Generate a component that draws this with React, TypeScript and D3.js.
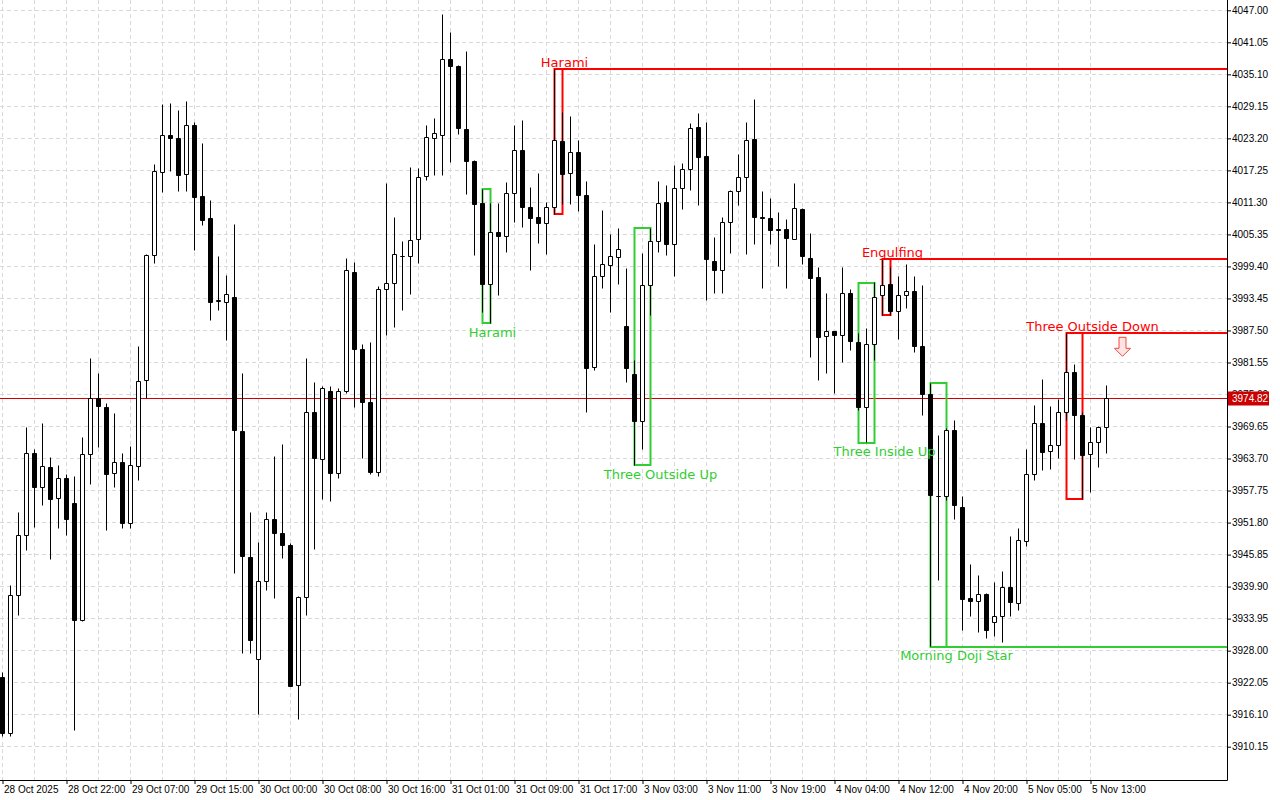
import React, { useEffect, useRef } from "react";
import * as d3 from "d3";

// hourly candles, index 0 = 28 Oct 2025 14:00
const open = [
  3923.10, 3912.64, 3938.28, 3949.43, 3964.67, 3958.35, 3962.07, 3956.31, 3960.08, 3955.38,
  3933.56, 3964.49, 3974.89, 3973.22, 3960.95, 3963.00, 3951.66, 3962.18, 3978.24, 4001.46,
  4016.89, 4023.77, 4023.21, 4016.52, 4025.59, 4012.34, 4008.29, 3992.88, 3992.73, 3993.68,
  3968.80, 3945.36, 3926.33, 3940.86, 3952.44, 3949.84, 3947.57, 3921.56, 3937.91, 3972.22,
  3963.56, 3976.19, 3960.88, 3976.19, 3998.31, 3984.00, 3974.15, 3961.14, 3995.15, 3996.26,
  4001.28, 4001.28, 4004.44, 4016.15, 4023.21, 4023.77, 4037.89, 4036.64, 4024.94, 4018.99,
  4011.13, 3996.08, 4005.74, 4004.92, 4012.99, 4020.98, 4010.39, 4008.53, 4007.34, 4010.31,
  4022.65, 4016.71, 4020.61, 4012.67, 3980.53, 3997.49, 3999.61, 4001.10, 3988.27, 3979.35,
  3970.55, 3995.89, 4004.07, 4011.19, 4003.51, 4013.92, 4017.45, 4025.31, 4019.74, 4000.35,
  3998.68, 4007.60, 4013.36, 4015.96, 4023.08, 4008.45, 4008.34, 4006.35, 4006.30, 4004.44,
  4010.01, 4000.91, 3997.38, 3986.41, 3987.34, 3986.60, 3994.40, 3985.35, 3973.22, 3984.93,
  3994.09, 3996.08, 3991.06, 3994.03, 3994.83, 3984.55, 3975.63, 3956.68, 3956.60, 3968.95,
  3954.69, 3937.60, 3937.17, 3938.47, 3933.27, 3934.38, 3939.77, 3936.79, 3948.31, 3960.77,
  3970.24, 3965.10, 3966.16, 3972.29, 3979.72, 3971.79, 3964.49, 3966.71, 3969.43,
];
const high = [
  3924.03, 3940.19, 3953.71, 3969.50, 3965.29, 3970.12, 3963.93, 3962.44, 3960.77, 3960.45,
  3967.65, 3982.38, 3979.54, 3973.96, 3971.98, 3964.67, 3965.90, 3984.61, 4001.71, 4018.43,
  4029.58, 4029.72, 4028.47, 4030.14, 4026.06, 4022.19, 4011.69, 4001.21, 3997.66, 4007.28,
  3979.58, 3953.75, 3948.04, 3953.75, 3964.17, 3966.27, 3947.94, 3938.15, 3982.20, 3977.87,
  3977.18, 3977.12, 3976.68, 4000.96, 4000.22, 3984.85, 3985.35, 3995.76, 4014.90, 4008.58,
  4004.12, 4017.87, 4017.63, 4025.68, 4026.98, 4046.31, 4042.96, 4036.83, 4039.43, 4019.18,
  4013.73, 4011.13, 4011.13, 4015.09, 4025.68, 4026.61, 4014.10, 4016.76, 4011.19, 4036.09,
  4028.10, 4027.23, 4022.89, 4015.22, 4003.51, 4009.83, 4005.37, 4006.48, 3998.98, 3982.01,
  4001.84, 4006.54, 4015.22, 4014.40, 4018.25, 4018.62, 4025.92, 4027.91, 4026.06, 4004.87,
  4008.58, 4013.60, 4020.29, 4026.06, 4030.51, 4013.41, 4012.06, 4009.46, 4008.16, 4014.85,
  4010.26, 4005.55, 3999.24, 3994.40, 3987.40, 3999.24, 3995.20, 3986.97, 3987.90, 3996.37,
  4000.72, 3999.24, 3997.62, 3999.85, 3997.62, 3995.95, 3977.68, 3968.01, 3969.37, 3970.86,
  3956.68, 3944.10, 3942.00, 3938.66, 3940.70, 3942.80, 3949.30, 3950.73, 3965.29, 3973.65,
  3978.42, 3973.46, 3974.76, 3986.97, 3981.21, 3972.20, 3969.56, 3969.69, 3977.31,
];
const low = [
  3912.13, 3912.00, 3934.49, 3946.70, 3950.85, 3954.93, 3944.85, 3950.66, 3949.36, 3913.25,
  3933.37, 3958.84, 3965.71, 3950.42, 3958.28, 3950.73, 3950.73, 3959.58, 3974.82, 4000.03,
  4013.10, 4017.00, 4013.29, 4013.29, 4002.27, 4007.06, 3989.33, 3991.23, 3985.65, 3942.33,
  3927.48, 3927.48, 3916.13, 3939.14, 3937.69, 3945.14, 3921.29, 3915.24, 3934.49, 3946.76,
  3956.05, 3955.68, 3960.08, 3975.75, 3973.14, 3963.67, 3960.69, 3960.32, 3986.52, 3988.01,
  3991.17, 3994.27, 3999.91, 4015.33, 4016.26, 4016.26, 4018.67, 4023.88, 4012.73, 4001.39,
  3990.87, 3988.83, 3993.96, 4001.95, 4007.52, 4006.60, 3998.61, 4003.62, 4001.58, 4009.09,
  4011.00, 4011.00, 4009.57, 3972.22, 3980.15, 3995.26, 3990.93, 3996.00, 3977.87, 3962.50,
  3965.29, 3990.24, 4001.95, 4001.52, 3997.49, 4009.94, 4013.47, 4010.81, 3993.03, 3994.40,
  3994.40, 4001.76, 4010.68, 4001.58, 4003.44, 3995.30, 4003.44, 3999.35, 3995.33, 4004.44,
  3999.85, 3982.43, 3978.29, 3979.54, 3975.82, 3981.51, 3983.87, 3972.72, 3966.64, 3982.01,
  3990.31, 3990.31, 3985.86, 3991.54, 3983.36, 3971.66, 3928.73, 3940.99, 3955.99, 3952.28,
  3931.70, 3934.31, 3931.33, 3930.29, 3930.59, 3929.55, 3934.31, 3935.49, 3947.31, 3959.71,
  3961.57, 3961.70, 3963.67, 3970.86, 3963.43, 3956.12, 3957.35, 3962.07, 3964.67,
];
const close = [
  3912.69, 3938.28, 3949.43, 3964.67, 3958.35, 3962.26, 3956.05, 3959.90, 3952.28, 3933.56,
  3964.49, 3974.89, 3973.33, 3960.77, 3962.92, 3951.66, 3962.37, 3978.05, 4001.46, 4017.08,
  4023.77, 4023.14, 4016.26, 4025.63, 4012.27, 4007.94, 3992.73, 3993.00, 3994.26, 3968.95,
  3945.49, 3929.88, 3940.86, 3952.44, 3949.77, 3947.46, 3921.42, 3937.91, 3972.22, 3963.67,
  3976.75, 3960.88, 3976.19, 3998.68, 3983.92, 3974.07, 3961.06, 3995.15, 3996.26, 4001.65,
  4001.28, 4004.25, 4015.96, 4023.40, 4024.14, 4037.89, 4036.51, 4024.99, 4018.86, 4010.87,
  3996.08, 4005.74, 4004.92, 4012.99, 4020.98, 4010.31, 4008.27, 4007.34, 4010.39, 4022.84,
  4016.52, 4020.61, 4012.54, 3980.39, 3997.44, 3999.80, 4001.28, 4002.64, 3980.39, 3970.55,
  3995.89, 4004.07, 4011.13, 4003.51, 4013.92, 4017.45, 4025.07, 4019.61, 4000.65, 3998.68,
  4007.60, 4013.41, 4015.96, 4022.84, 4008.45, 4008.30, 4006.04, 4006.04, 4004.55, 4010.20,
  4001.20, 3997.12, 3986.15, 3987.27, 3986.52, 3994.40, 3985.41, 3973.14, 3984.93, 3993.66,
  3995.89, 3991.06, 3994.03, 3994.77, 3984.48, 3975.56, 3956.79, 3956.68, 3968.95, 3954.93,
  3937.46, 3937.17, 3938.47, 3931.70, 3934.31, 3939.77, 3936.98, 3948.50, 3960.77, 3970.24,
  3964.85, 3966.16, 3972.29, 3979.72, 3971.66, 3964.22, 3966.71, 3969.43, 3974.82,
];

const priceTicks = [
  4047.0, 4041.05, 4035.1, 4029.15, 4023.2, 4017.25, 4011.3, 4005.35, 3999.4, 3993.45,
  3987.5, 3981.55, 3975.6, 3969.65, 3963.7, 3957.75, 3951.8, 3945.85, 3939.9, 3933.95,
  3928.0, 3922.05, 3916.1, 3910.15,
];
const timeTickIndex = [0, 8, 16, 24, 32, 40, 48, 56, 64, 72, 80, 88, 96, 104, 112, 120, 128, 136];
const timeTickLabels = [
  "28 Oct 2025", "28 Oct 22:00", "29 Oct 07:00", "29 Oct 15:00", "30 Oct 00:00", "30 Oct 08:00",
  "30 Oct 16:00", "31 Oct 01:00", "31 Oct 09:00", "31 Oct 17:00", "3 Nov 03:00", "3 Nov 11:00",
  "3 Nov 19:00", "4 Nov 04:00", "4 Nov 12:00", "4 Nov 20:00", "5 Nov 05:00", "5 Nov 13:00",
];

// candlestick patterns
const patternNames = ["Harami", "Harami", "Three Outside Up", "Three Inside Up", "Engulfing", "Morning Doji Star", "Three Outside Down"];
const patternStart = [60, 69, 79, 107, 110, 116, 133];
const patternLength = [2, 2, 3, 3, 2, 3, 3];
const patternBullish = [true, false, true, true, false, true, false];
const patternLevel = [false, true, false, false, true, true, true];

const lastPrice = 3974.82;
const arrowIndex = 140;

export default function App() {
  const svgRef = useRef<SVGSVGElement>(null);

  useEffect(() => {
    if (!svgRef.current) return;

    const width = 1280;
    const height = 800;
    const plotRight = 1227.5;
    const plotBottom = 780.5;
    const green = "#32cd32";
    const red = "#ff0000";

    d3.select(svgRef.current).selectAll("*").remove();

    const svg = d3.select(svgRef.current)
      .attr("width", width)
      .attr("height", height)
      .attr("viewBox", [0, 0, width, height])
      .style("background", "#fff");

    const x = d3.scaleLinear().domain([0, 1]).range([2.5, 10.5]);
    const y = d3.scaleLinear().domain([3910.15, 4047]).range([746.7, 10.3]);
    const snap = (v: number) => Math.round(v - 0.5) + 0.5;

    // grid
    const grid = svg.append("g")
      .attr("stroke", "#d9d9d9")
      .attr("stroke-dasharray", "4,3");
    grid.selectAll("line.h")
      .data(priceTicks)
      .join("line")
      .attr("class", "h")
      .attr("x1", 0)
      .attr("x2", plotRight)
      .attr("y1", d => snap(y(d)))
      .attr("y2", d => snap(y(d)));
    const vGrid = d3.range(0, 140, 4);
    grid.selectAll("line.v")
      .data(vGrid)
      .join("line")
      .attr("class", "v")
      .attr("x1", d => x(d))
      .attr("x2", d => x(d))
      .attr("y1", 0)
      .attr("y2", plotBottom);

    // current price line
    svg.append("line")
      .attr("x1", 0)
      .attr("x2", plotRight)
      .attr("y1", snap(y(lastPrice)))
      .attr("y2", snap(y(lastPrice)))
      .attr("stroke", "#d40000")
      .attr("stroke-width", 1);

    // pattern boxes and levels (behind the candles)
    const pat = svg.append("g").attr("fill", "none").attr("stroke-width", 2);
    const labels: { name: string; cx: number; ty: number; color: string }[] = [];
    patternNames.forEach((name, k) => {
      const s = patternStart[k];
      const e = s + patternLength[k] - 1;
      const hi = d3.max(d3.range(s, e + 1), i => high[i]) as number;
      const lo = d3.min(d3.range(s, e + 1), i => low[i]) as number;
      const color = patternBullish[k] ? green : red;
      pat.append("rect")
        .attr("x", x(s))
        .attr("y", Math.round(y(hi)))
        .attr("width", x(e) - x(s))
        .attr("height", Math.round(y(lo)) - Math.round(y(hi)))
        .attr("stroke", color);
      if (patternLevel[k]) {
        const ly = Math.round(patternBullish[k] ? y(lo) : y(hi));
        pat.append("line")
          .attr("x1", x(s))
          .attr("x2", plotRight)
          .attr("y1", ly)
          .attr("y2", ly)
          .attr("stroke", color);
      }
      labels.push({
        name,
        cx: x(e + patternLength[k] - 2) + 2,
        ty: patternBullish[k] ? y(lo) + 13.5 : y(hi) - 2.5,
        color,
      });
    });

    // candles
    const candles = svg.append("g");
    const idx = d3.range(open.length);
    candles.selectAll("line")
      .data(idx)
      .join("line")
      .attr("x1", i => x(i))
      .attr("x2", i => x(i))
      .attr("y1", i => snap(y(high[i])))
      .attr("y2", i => snap(y(low[i])))
      .attr("stroke", "#000");
    candles.selectAll("path")
      .data(idx)
      .join("path")
      .attr("d", i => {
        const top = snap(y(Math.max(open[i], close[i])));
        const bot = snap(y(Math.min(open[i], close[i])));
        return `M${x(i) - 2},${top}H${x(i) + 2}V${bot}H${x(i) - 2}Z`;
      })
      .attr("fill", i => (close[i] < open[i] ? "#000" : "#fff"))
      .attr("stroke", "#000");

    // pattern labels
    svg.append("g")
      .selectAll("text")
      .data(labels)
      .join("text")
      .attr("x", d => d.cx)
      .attr("y", d => d.ty)
      .attr("text-anchor", "middle")
      .attr("fill", d => d.color)
      .style("font-family", "'DejaVu Sans', Verdana, sans-serif")
      .style("font-size", "13px")
      .text(d => d.name);

    // sell arrow
    const ax = x(arrowIndex);
    const ay = y(high[133]) + 4;
    svg.append("path")
      .attr("d", `M${ax - 3.5},${ay} h7 v11 h4.5 l-8,8 l-8,-8 h4.5 Z`)
      .attr("fill", "#ffe4e4")
      .attr("stroke", "#f04a3a")
      .attr("stroke-width", 1);

    // price axis
    svg.append("line")
      .attr("x1", plotRight)
      .attr("x2", plotRight)
      .attr("y1", 0)
      .attr("y2", plotBottom)
      .attr("stroke", "#000");
    const yAxis = svg.append("g")
      .attr("transform", `translate(${plotRight - 0.5},0)`)
      .call(d3.axisRight(y).tickValues(priceTicks).tickSize(4).tickPadding(1).tickFormat(d3.format(".2f")));
    yAxis.select(".domain").remove();
    yAxis.selectAll("text")
      .attr("fill", "#000")
      .style("font-family", "'Liberation Sans', Arial, sans-serif")
      .style("font-size", "10px");

    // last price tag
    const tagY = snap(y(lastPrice));
    svg.append("rect")
      .attr("x", 1228)
      .attr("y", tagY - 7)
      .attr("width", 41)
      .attr("height", 14)
      .attr("fill", "#cc0000");
    svg.append("text")
      .attr("x", 1232)
      .attr("y", tagY + 3.5)
      .attr("fill", "#fff")
      .style("font-family", "'Liberation Sans', Arial, sans-serif")
      .style("font-size", "10px")
      .text(d3.format(".2f")(lastPrice));

    // time axis
    svg.append("line")
      .attr("x1", 0)
      .attr("x2", plotRight)
      .attr("y1", plotBottom)
      .attr("y2", plotBottom)
      .attr("stroke", "#000");
    const xAxis = svg.append("g")
      .attr("transform", `translate(0,${plotBottom - 0.5})`)
      .call(d3.axisBottom(x).tickValues(timeTickIndex).tickSize(4).tickPadding(2)
        .tickFormat((d, i) => timeTickLabels[i]));
    xAxis.select(".domain").remove();
    xAxis.selectAll("text")
      .attr("text-anchor", "start")
      .attr("dx", 1)
      .attr("fill", "#000")
      .style("font-family", "'Liberation Sans', Arial, sans-serif")
      .style("font-size", "10px");
  }, []);

  return (
    <div style={{ position: "absolute", left: 0, top: 0 }}>
      <svg ref={svgRef} style={{ display: "block" }}></svg>
    </div>
  );
}
